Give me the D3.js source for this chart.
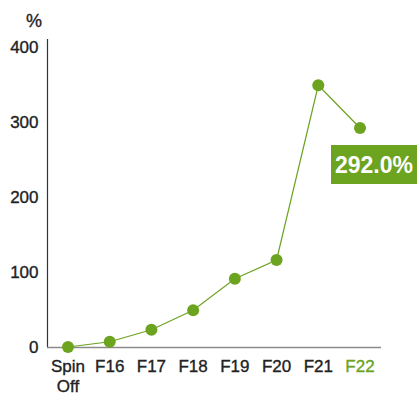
<!DOCTYPE html>
<html>
<head>
<meta charset="utf-8">
<script src="https://cdn.jsdelivr.net/npm/d3@7"></script>
<style>
  html, body { margin: 0; padding: 0; background: #fff; }
  svg { display: block; font-family: "Liberation Sans", Arial, Helvetica, sans-serif; }
  .lbl { stroke-width: 0.35px; paint-order: stroke; }
</style>
</head>
<body>
<svg id="chart" width="417" height="397"></svg>
<script>
// Cumulative growth since spin-off, in percent
const categories = ["Spin Off", "F16", "F17", "F18", "F19", "F20", "F21", "F22"];
const values = [0, 7, 23, 49, 91, 116, 349, 292];
const yTicks = [0, 100, 200, 300, 400];
const highlightLabel = "292.0%";

const green = "#6ca31f";
const ink = "#222";
const svg = d3.select("#chart");

const x = d3.scalePoint().domain(categories).range([68, 360]);
const y = d3.scaleLinear().domain([0, 400]).range([347, 47]);

// Y axis: vertical line + numeric labels
svg.append("line")
  .attr("x1", 47.5).attr("x2", 47.5)
  .attr("y1", 39).attr("y2", 347)
  .attr("stroke", "#333").attr("stroke-width", 1.2);

const yAxis = d3.axisLeft(y).tickValues(yTicks).tickSize(0).tickPadding(0);
const gy = svg.append("g").attr("transform", "translate(38.5,0)").call(yAxis);
gy.select(".domain").remove();
gy.selectAll("text")
  .attr("class", "lbl")
  .attr("font-size", 17).attr("fill", ink).attr("stroke", ink)
  .attr("font-family", "Liberation Sans, Arial, sans-serif");

svg.append("text")
  .attr("class", "lbl")
  .attr("x", 42).attr("y", 27)
  .attr("text-anchor", "end")
  .attr("font-size", 18).attr("fill", ink).attr("stroke", ink)
  .text("%");

// X axis baseline
svg.append("line")
  .attr("x1", 47).attr("x2", 381)
  .attr("y1", 347.5).attr("y2", 347.5)
  .attr("stroke", "#8a8a8a").attr("stroke-width", 1.5);

// Category labels (multi-line where needed)
const xl = svg.append("g");
categories.forEach((c, i) => {
  const col = i === categories.length - 1 ? green : ink;
  const t = xl.append("text")
    .attr("class", "lbl")
    .attr("x", x(c)).attr("y", 372)
    .attr("text-anchor", "middle")
    .attr("font-size", 17)
    .attr("fill", col).attr("stroke", col);
  c.split(" ").forEach((w, j) => {
    t.append("tspan").attr("x", x(c)).attr("dy", j === 0 ? 0 : 20).text(w);
  });
});

// Line and points
const line = d3.line().x((d, i) => x(categories[i])).y(d => y(d));
svg.append("path")
  .datum(values)
  .attr("d", line)
  .attr("fill", "none")
  .attr("stroke", green)
  .attr("stroke-width", 1.2);

svg.selectAll("circle.pt")
  .data(values)
  .join("circle")
  .attr("class", "pt")
  .attr("cx", (d, i) => x(categories[i]))
  .attr("cy", d => y(d))
  .attr("r", 6)
  .attr("fill", green);

// Highlight label for the latest value
const last = values.length - 1;
const bx = x(categories[last]) - 29;
const by = y(values[last]) + 17;
svg.append("rect")
  .attr("x", bx).attr("y", by)
  .attr("width", 86).attr("height", 39)
  .attr("fill", green);
svg.append("text")
  .attr("x", bx + 43).attr("y", by + 28)
  .attr("text-anchor", "middle")
  .attr("font-size", 23).attr("font-weight", "bold")
  .attr("fill", "#fff")
  .text(highlightLabel);
</script>
</body>
</html>
